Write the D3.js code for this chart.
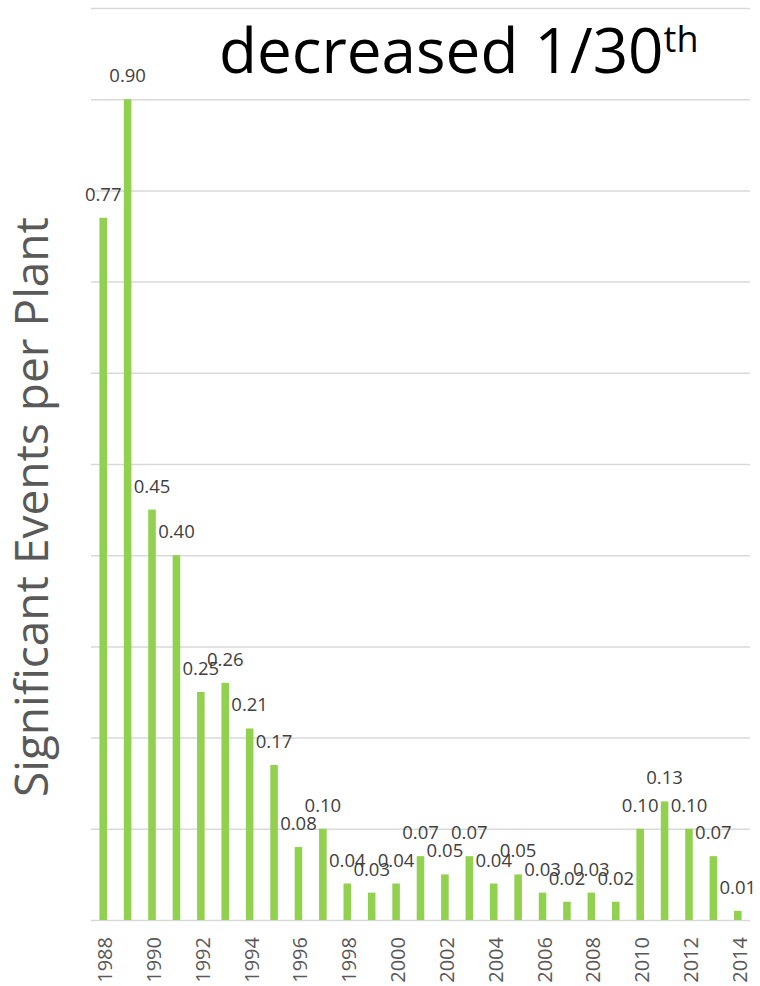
<!DOCTYPE html>
<meta charset="utf-8">
<style>
body{
  margin: 0;
  background: #fff;
}
path.domain{
  display: none;
}
.yaxis .tick text{
  display: none;
}
.yaxis .tick line{
  stroke: #d9d9d9;
  stroke-width: 1.5;
}
.xaxis .tick line{
  display: none;
}
</style>
<body>
<div id="chart"></div>
<script src="https://d3js.org/d3.v7.min.js"></script>
<script>
  var years = [1988, 1989, 1990, 1991, 1992, 1993, 1994, 1995, 1996, 1997, 1998, 1999, 2000,
    2001, 2002, 2003, 2004, 2005, 2006, 2007, 2008, 2009, 2010, 2011, 2012, 2013, 2014];
  var events = [0.77, 0.90, 0.45, 0.40, 0.25, 0.26, 0.21, 0.17, 0.08, 0.10, 0.04, 0.03, 0.04,
    0.07, 0.05, 0.07, 0.04, 0.05, 0.03, 0.02, 0.03, 0.02, 0.10, 0.13, 0.10, 0.07, 0.01];
  var shownYears = [1988, 1990, 1992, 1994, 1996, 1998, 2000, 2002, 2004, 2006, 2008, 2010, 2012, 2014];
  var gridTicks = [0, 0.1, 0.2, 0.3, 0.4, 0.5, 0.6, 0.7, 0.8, 0.9, 1.0];

  var data = years.map(function(y, i){
    return {key: y, value: events[i]};
  });

  var margin = {top: 8, right: 10, bottom: 66, left: 91},
      width = 760 - margin.left - margin.right,
      height = 986 - margin.top - margin.bottom;

  var x = d3.scaleBand()
            .domain(years)
            .range([0, width])
            .paddingInner(0.69)
            .paddingOuter(0.345);

  var y = d3.scaleLinear()
            .domain([0, 1])
            .range([height, 0]);

  var svg = d3.select("#chart").append("svg")
      .attr("width", 760)
      .attr("height", 986);

  var g = svg.append("g")
      .attr("transform", "translate(" + margin.left + "," + margin.top + ")");

  // gridlines
  g.append("g").attr("class", "yaxis")
      .call(d3.axisLeft(y).tickValues(gridTicks).tickSize(-width));

  // x axis, every other year
  g.append("g")
      .attr("class", "xaxis")
      .attr("transform", "translate(0," + height + ")")
      .call(d3.axisBottom(x).tickValues(shownYears).tickSize(0))
    .selectAll("text")
      .attr("transform", "rotate(-90)")
      .attr("x", -17)
      .attr("y", 2)
      .attr("dy", "0.35em")
      .style("text-anchor", "end")
      .style("font-family", "'Open Sans', sans-serif")
      .style("font-size", "20px")
      .style("fill", "#595959");

  // bars
  g.selectAll(".bar")
      .data(data)
    .enter().append("rect")
      .attr("class", "bar")
      .attr("x", function(d){ return x(d.key); })
      .attr("y", function(d){ return y(d.value); })
      .attr("width", x.bandwidth())
      .attr("height", function(d){ return height - y(d.value); })
      .attr("fill", "#92d050");

  // value labels
  g.selectAll(".label")
      .data(data)
    .enter().append("text")
      .attr("class", "label")
      .attr("x", function(d){ return x(d.key) + x.bandwidth() / 2; })
      .attr("y", function(d){ return y(d.value) - 17; })
      .attr("text-anchor", "middle")
      .style("font-family", "'Open Sans', sans-serif")
      .style("font-size", "18.5px")
      .style("fill", "#404040")
      .text(function(d){ return d.value.toFixed(2); });

  // y axis title
  svg.append("text")
      .attr("transform", "translate(48,507) rotate(-90)")
      .attr("text-anchor", "middle")
      .style("font-family", "'Open Sans', sans-serif")
      .style("font-size", "46px")
      .style("fill", "#595959")
      .text("Significant Events per Plant");

  // headline
  var title = svg.append("text")
      .attr("x", 219)
      .attr("y", 73)
      .style("font-family", "'Open Sans', sans-serif")
      .style("font-size", "62px")
      .style("fill", "#000");
  title.append("tspan").text("decreased 1/30");
  title.append("tspan")
      .attr("dy", -21)
      .style("font-size", "36px")
      .text("th");
</script>
</body>
